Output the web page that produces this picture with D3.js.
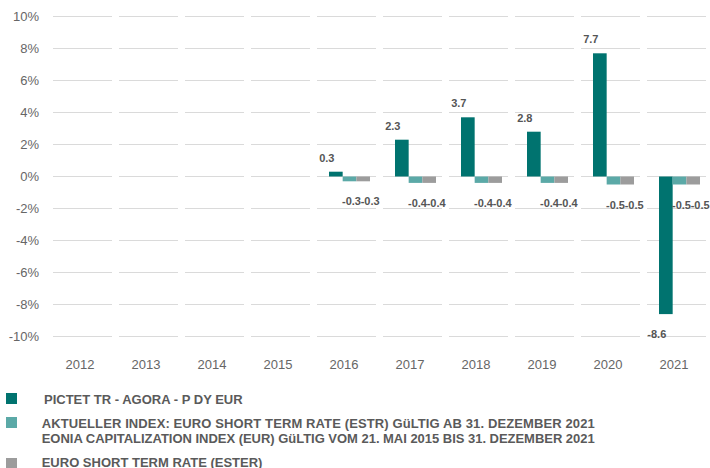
<!DOCTYPE html>
<html>
<head>
<meta charset="utf-8">
<script src="https://cdn.jsdelivr.net/npm/d3@7"></script>
<style>
  body { margin: 0; background: #fff; }
  svg { display: block; }
</style>
</head>
<body>
<div id="chart"></div>
<script>
const width = 710, height = 468;

// chart data
const years = ["2012", "2013", "2014", "2015", "2016", "2017", "2018", "2019", "2020", "2021"];
const fund = [null, null, null, null, 0.3, 2.3, 3.7, 2.8, 7.7, -8.6];
const indexRate = [null, null, null, null, -0.3, -0.4, -0.4, -0.4, -0.5, -0.5];
const esterRate = [null, null, null, null, -0.3, -0.4, -0.4, -0.4, -0.5, -0.5];
const yTicks = [-10, -8, -6, -4, -2, 0, 2, 4, 6, 8, 10];

const seriesNames = [
    ["PICTET TR - AGORA - P DY EUR"],
    ["AKTUELLER INDEX: EURO SHORT TERM RATE (ESTR) GüLTIG AB 31. DEZEMBER 2021",
     "EONIA CAPITALIZATION INDEX (EUR) GüLTIG VOM 21. MAI 2015 BIS 31. DEZEMBER 2021"],
    ["EURO SHORT TERM RATE (ESTER)"]
];
const colors = ["#00736f", "#5ba9a7", "#9c9c9c"];
const labelShift = [-9, 2, 7];

const series = [fund, indexRate, esterRate];

let svg = d3.select("#chart")
    .append("svg")
    .attr("width", width)
    .attr("height", height)
    .style("font-family", "'Liberation Sans', Arial, sans-serif");

let x = d3.scaleBand()
    .domain(years)
    .range([47, 707]);

let y = d3.scaleLinear()
    .domain([-10, 10])
    .range([336.5, 16.5]);

// inner band for the three bars in each year
let x1 = d3.scaleBand()
    .domain([0, 1, 2])
    .range([18, 59]);

// gridlines, broken into one segment per year
let grid = svg.append("g");
yTicks.forEach(function(t) {
    grid.selectAll(null)
        .data(years)
        .enter()
        .append("line")
        .attr("x1", function(d) { return x(d) + 6; })
        .attr("x2", function(d) { return x(d) + 65; })
        .attr("y1", y(t))
        .attr("y2", y(t))
        .attr("stroke", "#dadada")
        .attr("stroke-width", 1);
});

// y axis labels
svg.append("g")
    .selectAll("text")
    .data(yTicks)
    .enter()
    .append("text")
    .attr("x", 39)
    .attr("y", function(d) { return y(d); })
    .attr("dy", "0.35em")
    .style("text-anchor", "end")
    .style("font-size", "13px")
    .style("fill", "#666")
    .text(function(d) { return d + "%"; });

// x axis labels
svg.append("g")
    .selectAll("text")
    .data(years)
    .enter()
    .append("text")
    .attr("x", function(d) { return x(d) + x.bandwidth() / 2; })
    .attr("y", 369)
    .style("text-anchor", "middle")
    .style("font-size", "13px")
    .style("fill", "#666")
    .text(function(d) { return d; });

// bars + value labels
series.forEach(function(vals, s) {
    let rows = years.map(function(yr, i) { return {year: yr, v: vals[i]}; })
        .filter(function(d) { return d.v !== null; });

    svg.append("g")
        .selectAll("rect")
        .data(rows)
        .enter()
        .append("rect")
        .attr("x", function(d) { return x(d.year) + x1(s); })
        .attr("width", x1.bandwidth())
        .attr("y", function(d) { return y(Math.max(0, d.v)); })
        .attr("height", function(d) { return Math.abs(y(d.v) - y(0)); })
        .attr("fill", colors[s]);

    svg.append("g")
        .selectAll("text")
        .data(rows)
        .enter()
        .append("text")
        .attr("x", function(d) { return x(d.year) + x1(s) + x1.bandwidth() / 2 + labelShift[s]; })
        .attr("y", function(d) { return d.v >= 0 ? y(d.v) - 10 : y(d.v) + 24; })
        .style("text-anchor", "middle")
        .style("font-size", "11px")
        .style("font-weight", "bold")
        .style("fill", "#555")
        .text(function(d) { return d.v.toFixed(1); });
});

// legend
const legendBox = [393, 417, 458];
const legendBase = [403.5, 427.5, 467];
const legendTextX = [44, 41.7, 41.7];
let legend = svg.append("g")
    .style("font-size", "13px")
    .style("font-weight", "bold")
    .style("fill", "#5a5a5a");

seriesNames.forEach(function(lines, i) {
    legend.append("rect")
        .attr("x", 6)
        .attr("y", legendBox[i])
        .attr("width", 11)
        .attr("height", 11)
        .attr("fill", colors[i]);
    lines.forEach(function(line, j) {
        legend.append("text")
            .attr("x", legendTextX[i])
            .attr("y", legendBase[i] + j * 15.7)
            .attr("textLength", line.length > 60 ? 553 : null)
            .text(line);
    });
});
</script>
</body>
</html>
